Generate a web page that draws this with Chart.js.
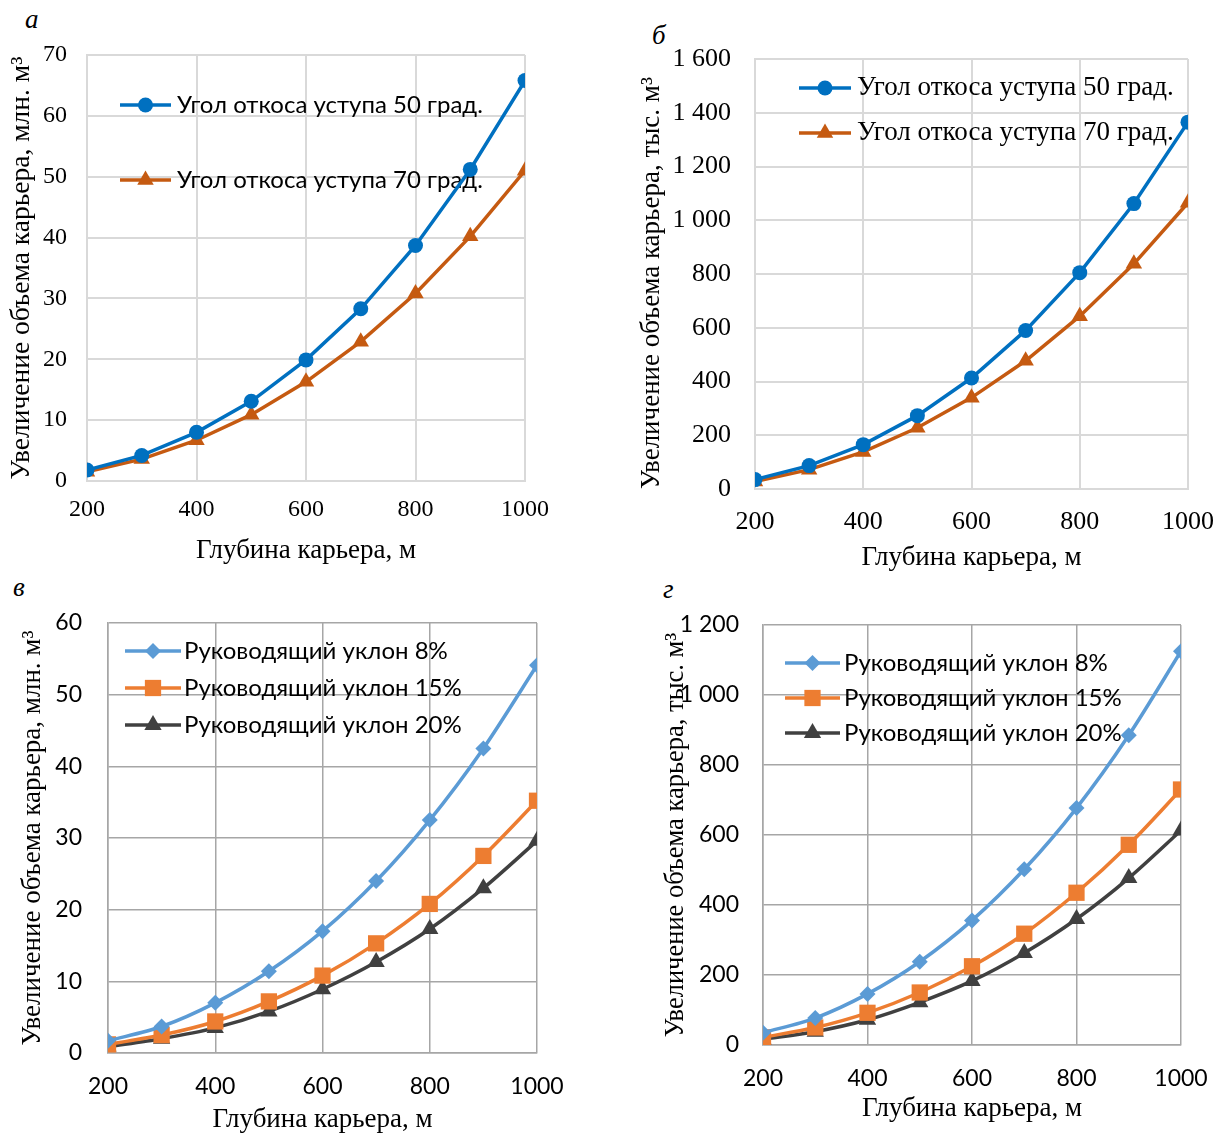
<!DOCTYPE html>
<html>
<head>
<meta charset="utf-8">
<title>Увеличение объема карьера</title>
<script src="https://cdn.jsdelivr.net/npm/chart.js"></script>
<style>
    body { margin: 0; background: #fff; width: 1222px; height: 1137px; position: relative; overflow: hidden; }
    canvas { position: absolute; }
    .tag { position: absolute; font-family: "Liberation Serif", serif; font-style: italic; font-size: 27px; line-height: 1; }
</style>
</head>
<body>
<div class="tag" style="left:25px;top:6px">а</div>
<div class="tag" style="left:652px;top:22px">б</div>
<div class="tag" style="left:13px;top:574px">в</div>
<div class="tag" style="left:663px;top:576px">г</div>

<canvas id="chartA" width="600" height="575" style="left:0;top:0"></canvas>
<canvas id="chartB" width="607" height="580" style="left:615px;top:0"></canvas>
<canvas id="chartC" width="600" height="559" style="left:0;top:578px"></canvas>
<canvas id="chartD" width="607" height="559" style="left:615px;top:578px"></canvas>

<script>
// Depth of the pit, m
const depth = [200, 300, 400, 500, 600, 700, 800, 900, 1000];
const depthTicks = [200, 400, 600, 800, 1000];

const angleNames = ['Угол откоса уступа 50 град.', 'Угол откоса уступа 70 град.'];
const slopeNames = ['Руководящий уклон 8%', 'Руководящий уклон 15%', 'Руководящий уклон 20%'];

// а: volume increase, mln m3, by bench slope angle
const volA50 = [1.8, 4.2, 8.0, 13.1, 19.9, 28.3, 38.7, 51.2, 65.8];
const volA70 = [1.5, 3.6, 6.7, 10.9, 16.3, 22.9, 30.8, 40.2, 51.0];

// б: volume increase, thousand m3, by bench slope angle
const volB50 = [35, 87, 165, 273, 413, 590, 805, 1062, 1365];
const volB70 = [28, 72, 138, 228, 340, 477, 643, 838, 1065];

// в: volume increase, mln m3, by ruling grade
const volC8 = [1.7, 3.7, 7.0, 11.4, 17.0, 24.0, 32.5, 42.5, 54.1];
const volC15 = [1.2, 2.5, 4.4, 7.2, 10.8, 15.3, 20.8, 27.5, 35.2];
const volC20 = [0.9, 2.0, 3.5, 5.8, 8.9, 12.7, 17.3, 23.0, 29.6];

// г: volume increase, thousand m3, by ruling grade
const volD8 = [35, 77, 146, 238, 356, 502, 677, 885, 1125];
const volD15 = [22, 50, 92, 150, 225, 318, 435, 572, 730];
const volD20 = [16, 38, 72, 122, 183, 263, 360, 477, 613];

const xTitle = 'Глубина карьера, м';
const yTitleMln = 'Увеличение объема карьера, млн. м³';
const yTitleThs = 'Увеличение объема карьера, тыс. м³';

const SERIF = '"Liberation Serif", serif';
const SANS = 'Lato, "Open Sans", sans-serif';

function points(vals) {
    return depth.map((d, i) => ({ x: d, y: vals[i] }));
}

// 1200 -> "1 200"
function spaced(v) {
    return String(v).replace(/\B(?=(\d{3})+(?!\d))/g, ' ');
}

function drawMarker(ctx, style, x, y, r, color) {
    ctx.fillStyle = color;
    ctx.beginPath();
    if (style === 'circle') {
        ctx.arc(x, y, r, 0, Math.PI * 2);
    } else if (style === 'triangle') {
        let a = 0;
        ctx.moveTo(x + Math.sin(a) * r, y - Math.cos(a) * r);
        a += Math.PI * 2 / 3;
        ctx.lineTo(x + Math.sin(a) * r, y - Math.cos(a) * r);
        a += Math.PI * 2 / 3;
        ctx.lineTo(x + Math.sin(a) * r, y - Math.cos(a) * r);
        ctx.closePath();
    } else if (style === 'rect') {
        const s = r * Math.SQRT1_2;
        ctx.rect(x - s, y - s, 2 * s, 2 * s);
    } else if (style === 'rectRot') {
        ctx.moveTo(x, y - r);
        ctx.lineTo(x + r, y);
        ctx.lineTo(x, y + r);
        ctx.lineTo(x - r, y);
        ctx.closePath();
    }
    ctx.fill();
}

// Legend drawn inside the plot at fixed spots
const insideLegend = {
    id: 'insideLegend',
    beforeDatasetsDraw(chart, args, opts) {
        const ctx = chart.ctx;
        chart.data.datasets.forEach((ds, i) => {
            const y = opts.rows[i];
            ctx.save();
            ctx.strokeStyle = ds.borderColor;
            ctx.lineWidth = ds.borderWidth;
            ctx.beginPath();
            ctx.moveTo(opts.x0, y);
            ctx.lineTo(opts.x1, y);
            ctx.stroke();
            drawMarker(ctx, ds.pointStyle, (opts.x0 + opts.x1) / 2, y, ds.pointRadius, ds.borderColor);
            ctx.fillStyle = '#000';
            ctx.font = opts.font;
            ctx.textBaseline = 'middle';
            ctx.fillText(ds.label, opts.textX, y);
            ctx.restore();
        });
    }
};

function makePanel(p) {
    const el = document.getElementById(p.id);
    const box = { left: parseFloat(el.style.left), top: parseFloat(el.style.top), w: el.width, h: el.height };
    const lhY = p.yTitleSize * 1.2, lhX = p.xTitleSize * 1.2;

    new Chart(el, {
        type: 'line',
        data: {
            datasets: p.series.map(s => ({
                label: s.label,
                data: points(s.values),
                borderColor: s.color,
                backgroundColor: s.color,
                pointBackgroundColor: s.color,
                pointBorderColor: s.color,
                pointBorderWidth: 0,
                borderWidth: p.lineWidth,
                pointStyle: s.marker,
                pointRadius: s.radius,
                tension: p.tension
            }))
        },
        options: {
            responsive: false,
            animation: false,
            events: [],
            layout: {
                padding: { left: 0, top: p.plot.top - box.top, right: box.left + box.w - p.plot.right, bottom: 0 }
            },
            plugins: {
                legend: { display: false },
                tooltip: { enabled: false },
                insideLegend: {
                    x0: p.legend.x0 - box.left,
                    x1: p.legend.x1 - box.left,
                    textX: p.legend.textX - box.left,
                    rows: p.legend.rows.map(r => r - box.top),
                    font: p.legend.font
                }
            },
            scales: {
                x: {
                    type: 'linear',
                    min: 200,
                    max: 1000,
                    afterFit: s => { s.height = box.top + box.h - p.plot.bottom; },
                    afterBuildTicks: s => { s.ticks = depthTicks.map(v => ({ value: v })); },
                    // invisible tick marks keep the labels off the axis
                    grid: { color: p.gridColor, lineWidth: p.gridWidth, drawTicks: true, tickLength: p.xTickPad, tickColor: 'rgba(0,0,0,0)' },
                    border: { color: p.gridColor, width: p.gridWidth },
                    ticks: {
                        color: '#000',
                        padding: 0,
                        maxRotation: 0,
                        font: { family: p.tickFont, size: p.xTickSize },
                        callback: v => String(v)
                    },
                    title: {
                        display: true,
                        text: xTitle,
                        color: '#000',
                        font: { family: SERIF, size: p.xTitleSize },
                        padding: { top: 0, bottom: box.top + box.h - p.xTitleY - lhX / 2 }
                    }
                },
                y: {
                    min: 0,
                    max: p.yMax,
                    afterFit: s => { s.width = p.plot.left - box.left; },
                    grid: { color: p.gridColor, lineWidth: p.gridWidth, drawTicks: false },
                    border: { color: p.gridColor, width: p.gridWidth },
                    ticks: {
                        stepSize: p.yStep,
                        color: '#000',
                        padding: p.yTickPad,
                        font: { family: p.tickFont, size: p.yTickSize },
                        callback: v => spaced(v)
                    },
                    title: {
                        display: true,
                        text: p.yTitle,
                        align: p.yTitleAlign || 'center',
                        color: '#000',
                        font: { family: SERIF, size: p.yTitleSize },
                        padding: { top: p.yTitleX - box.left - lhY / 2, bottom: 0 }
                    }
                }
            }
        },
        plugins: [insideLegend]
    });
}

const BLUE = '#0070C0', RUST = '#C55A11';
const LBLUE = '#5B9BD5', ORANGE = '#ED7D31', DARK = '#404040';

makePanel({
    id: 'chartA',
    plot: { left: 87, top: 55, right: 525, bottom: 481 },
    yMax: 70, yStep: 10,
    yTitle: yTitleMln, yTitleX: 22, yTitleSize: 27.5,
    xTitleY: 551, xTitleSize: 27,
    tickFont: SERIF, xTickSize: 24, yTickSize: 24, xTickPad: 14, yTickPad: 20,
    gridColor: '#D9D9D9', gridWidth: 2, lineWidth: 3.5, tension: 0,
    legend: { x0: 120, x1: 171, textX: 177, rows: [105, 180], font: '24px ' + SANS },
    series: [
        { label: angleNames[0], values: volA50, color: BLUE, marker: 'circle', radius: 7.5 },
        { label: angleNames[1], values: volA70, color: RUST, marker: 'triangle', radius: 9.5 }
    ]
});

makePanel({
    id: 'chartB',
    plot: { left: 755, top: 59, right: 1188, bottom: 489 },
    yMax: 1600, yStep: 200,
    yTitle: yTitleThs, yTitleX: 652, yTitleSize: 27, yTitleAlign: 'start',
    xTitleY: 558, xTitleSize: 27,
    tickFont: SERIF, xTickSize: 26, yTickSize: 26, xTickPad: 18, yTickPad: 24,
    gridColor: '#D9D9D9', gridWidth: 2, lineWidth: 3.5, tension: 0,
    legend: { x0: 799, x1: 851, textX: 857, rows: [88, 133], font: '27px ' + SERIF },
    series: [
        { label: angleNames[0], values: volB50, color: BLUE, marker: 'circle', radius: 7.5 },
        { label: angleNames[1], values: volB70, color: RUST, marker: 'triangle', radius: 9.5 }
    ]
});

makePanel({
    id: 'chartC',
    plot: { left: 108, top: 623, right: 537, bottom: 1053 },
    yMax: 60, yStep: 10,
    yTitle: yTitleMln, yTitleX: 33, yTitleSize: 27,
    xTitleY: 1120, xTitleSize: 27,
    tickFont: SANS, xTickSize: 23, yTickSize: 23, xTickPad: 20, yTickPad: 26,
    gridColor: '#A6A6A6', gridWidth: 1.5, lineWidth: 3.5, tension: 0.3,
    legend: { x0: 125, x1: 181, textX: 184, rows: [651, 688, 725], font: '24px ' + SANS },
    series: [
        { label: slopeNames[0], values: volC8, color: LBLUE, marker: 'rectRot', radius: 8 },
        { label: slopeNames[1], values: volC15, color: ORANGE, marker: 'rect', radius: 11.5 },
        { label: slopeNames[2], values: volC20, color: DARK, marker: 'triangle', radius: 10 }
    ]
});

makePanel({
    id: 'chartD',
    plot: { left: 763, top: 625, right: 1181, bottom: 1045 },
    yMax: 1200, yStep: 200,
    yTitle: yTitleThs, yTitleX: 676, yTitleSize: 26.5,
    xTitleY: 1109, xTitleSize: 27,
    tickFont: SANS, xTickSize: 23, yTickSize: 23, xTickPad: 20, yTickPad: 24,
    gridColor: '#A6A6A6', gridWidth: 1.5, lineWidth: 3.5, tension: 0.3,
    legend: { x0: 785, x1: 840, textX: 844, rows: [663, 698, 733], font: '24px ' + SANS },
    series: [
        { label: slopeNames[0], values: volD8, color: LBLUE, marker: 'rectRot', radius: 8 },
        { label: slopeNames[1], values: volD15, color: ORANGE, marker: 'rect', radius: 11.5 },
        { label: slopeNames[2], values: volD20, color: DARK, marker: 'triangle', radius: 10 }
    ]
});
</script>
</body>
</html>
